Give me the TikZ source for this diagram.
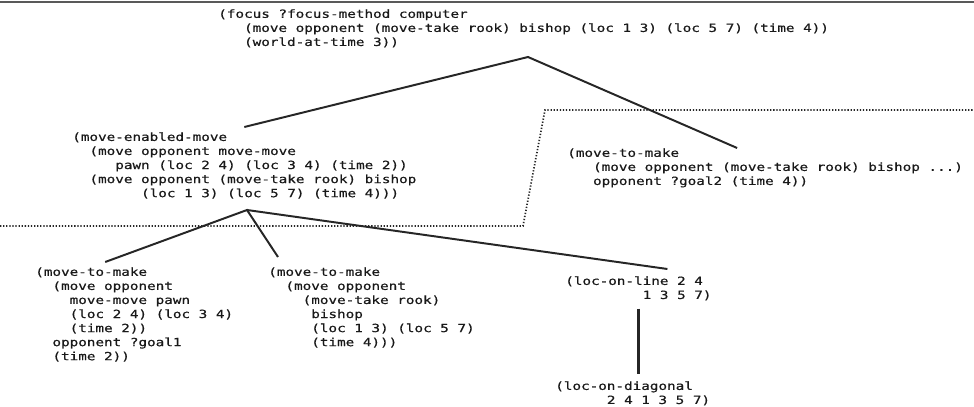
\documentclass[tikz,border=0pt]{standalone}
\usepackage{fontspec}
\setmonofont[FakeStretch=1.27, FakeBold=0.6]{DejaVu Sans Mono}
\usetikzlibrary{positioning}

\begin{document}
\begin{tikzpicture}[
      x=0.025cm, y=-0.025cm,
      term/.style={anchor=north west, inner sep=0pt, align=left, text=black!90,
          font=\ttfamily\fontsize{8}{10}\selectfont},
      branch/.style={draw=black!85, line width=1.4pt},
      cut/.style={draw=black!85, line width=1.2pt, dash pattern=on 0.9pt off 1.3pt},
    ]
    \useasboundingbox (0,0) rectangle (974,407);
    \draw[black!65, line width=2pt] (0,2) -- (974,2);

    \node[term] (focus) at (218,9) {(focus ?focus-method computer\\
      ~~~(move opponent (move-take rook) bishop (loc 1 3) (loc 5 7) (time 4))\\
      ~~~(world-at-time 3))};

    \node[term] (enabled) at (72,132) {(move-enabled-move\\
      ~~(move opponent move-move\\
      ~~~~~pawn (loc 2 4) (loc 3 4) (time 2))\\
      ~~(move opponent (move-take rook) bishop\\
      ~~~~~~~~(loc 1 3) (loc 5 7) (time 4)))};

    \node[term] (tomake) at (567,148) {(move-to-make\\
      ~~~(move opponent (move-take rook) bishop ...)\\
      ~~~opponent ?goal2 (time 4))};

    \node[term] (tomakeA) at (35,267) {(move-to-make\\
      ~~(move opponent\\
      ~~~~move-move pawn\\
      ~~~~(loc 2 4) (loc 3 4)\\
      ~~~~(time 2))\\
      ~~opponent ?goal1\\
      ~~(time 2))};

    \node[term] (tomakeB) at (268,267) {(move-to-make\\
      ~~(move opponent\\
      ~~~~(move-take rook)\\
      ~~~~~bishop\\
      ~~~~~(loc 1 3) (loc 5 7)\\
      ~~~~~(time 4)))};

    \node[term] (online) at (565,276) {(loc-on-line 2 4\\
      ~~~~~~~~~1 3 5 7)};

    \node[term] (ondiag) at (555,381) {(loc-on-diagonal\\
      ~~~~~~2 4 1 3 5 7)};

    % forks of the tree
    \coordinate (topfork) at (528,57);
    \coordinate (midfork) at (247,210);

    \draw[branch] ([yshift=1.25mm]enabled.north) -- (topfork) -- ([xshift=-7mm]tomake.north);
    \draw[branch] ([xshift=-7.25mm,yshift=1.25mm]tomakeA.north) -- (midfork)
      -- ([xshift=2.5mm,yshift=2.5mm]tomakeB.north west);
    \draw[branch] (midfork) -- ([xshift=7.25mm,yshift=1.75mm]online.north);
    \draw[branch, line width=1.7pt] ([yshift=-2mm]online.south) -- ([yshift=1.75mm]online.south |- ondiag.north);

    % dotted boundary
    \draw[cut] (0,226) -- (523,226) -- (545,110) -- (974,110);
  \end{tikzpicture}
\end{document}
